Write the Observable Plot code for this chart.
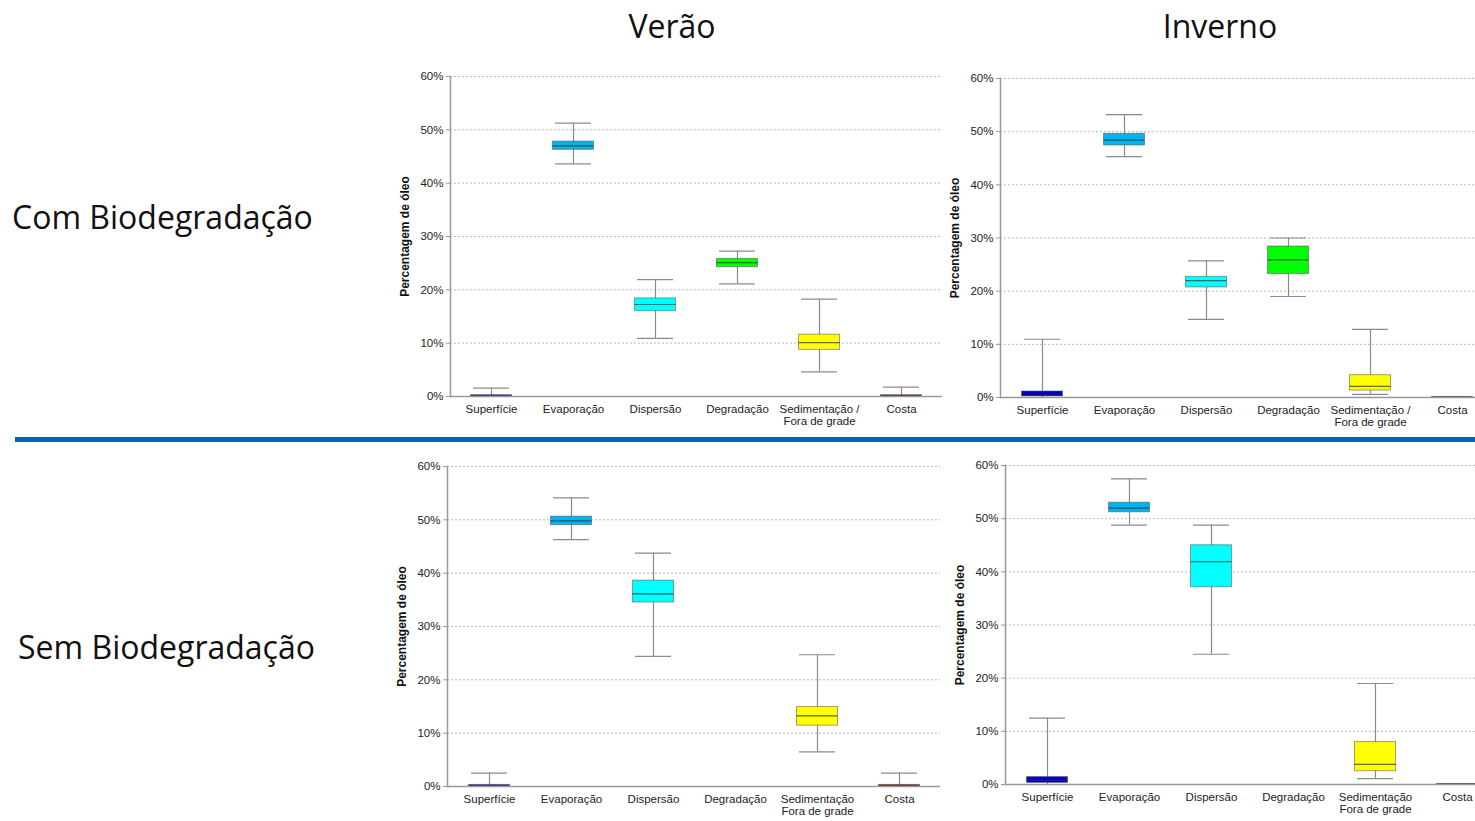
<!DOCTYPE html>
<html>
<head>
<meta charset="utf-8">
<script src="https://cdn.jsdelivr.net/npm/d3@7"></script>
<script src="https://cdn.jsdelivr.net/npm/@observablehq/plot@0.6"></script>
<style>
  html, body { margin: 0; padding: 0; background: #fff; }
  body { width: 1475px; height: 821px; overflow: hidden; position: relative; }
  .abs { position: absolute; }
  .title { font-family: "Open Sans", sans-serif; font-size: 32px; color: #111; white-space: nowrap; line-height: 1; }
  .rowlab { font-family: "Open Sans", sans-serif; font-size: 32px; color: #111; white-space: nowrap; line-height: 1; }
  .divider { position: absolute; left: 15px; top: 437px; width: 1460px; height: 5px; background: #0B63AE; }
  .panel { width: 700px; }
  .panel svg { overflow: visible; max-width: none !important; }
</style>
</head>
<body>
<div id="root"></div>
<script>
// ---------- data ----------
const categories = ["Superfície", "Evaporação", "Dispersão", "Degradação", "Sedimentação", "Costa"];
const catLabelsTop = ["Superfície", "Evaporação", "Dispersão", "Degradação", "Sedimentação /\nFora de grade", "Costa"];
const catLabelsBottom = ["Superfície", "Evaporação", "Dispersão", "Degradação", "Sedimentação\nFora de grade", "Costa"];
const catColors = ["#0000CD", "#00B4F0", "#00FFFF", "#00FF00", "#FFFF00", "#7A1A00"];
const seasons = ["Verão", "Inverno"];
const rowsLabels = ["Com Biodegradação", "Sem Biodegradação"];
const yTicks = [0, 10, 20, 30, 40, 50, 60];
const yLabel = "Percentagem de óleo";

// Verão - Com biodegradação (% of oil)
const veraoComLow  = [0,    43.6,  10.9, 21.1,  4.6,  0];
const veraoComQ1   = [0,    46.25, 16.0, 24.25, 8.75, 0];
const veraoComMed  = [0.1,  47.0,  17.25, 25.1, 10.1, 0.1];
const veraoComQ3   = [0.25, 47.8,  18.4, 25.8,  11.6, 0.25];
const veraoComHigh = [1.56, 51.25, 21.9, 27.25, 18.25, 1.75];

// Inverno - Com biodegradação
const invernoComLow  = [0,     45.3, 14.7, 19.0, 0.6,  0];
const invernoComQ1   = [0.2,   47.4, 20.7, 23.2, 1.3,  0];
const invernoComMed  = [0.4,   48.4, 22.0, 25.9, 2.1,  0.05];
const invernoComQ3   = [1.13,  49.6, 22.7, 28.4, 4.2,  0.1];
const invernoComHigh = [10.96, 53.2, 25.7, 30.0, 12.8, 0.1];

// Verão - Sem biodegradação
const veraoSemLow  = [0,   46.3, 24.4,  null, 6.5,   0];
const veraoSemQ1   = [0,   49.0, 34.5,  null, 11.4,  0];
const veraoSemMed  = [0.1, 49.8, 36.1,  null, 13.25, 0.1];
const veraoSemQ3   = [0.3, 50.6, 38.6,  null, 14.9,  0.3];
const veraoSemHigh = [2.5, 54.1, 43.75, null, 24.7,  2.5];

// Inverno - Sem biodegradação
const invernoSemLow  = [0,    48.8, 24.5, null, 1.1,  0];
const invernoSemQ1   = [0.3,  51.2, 37.1, null, 2.5,  0];
const invernoSemMed  = [0.8,  52.0, 41.9, null, 3.8,  0.05];
const invernoSemQ3   = [1.4,  53.0, 45.0, null, 8.0,  0.1];
const invernoSemHigh = [12.5, 57.5, 48.8, null, 19.0, 0.1];

// ---------- layout ----------
const panels = [
  {stats: [veraoComLow, veraoComQ1, veraoComMed, veraoComQ3, veraoComHigh], labels: catLabelsTop, left: 380, top: 60, mt: 16, fh: 320, fw: 492},
  {stats: [invernoComLow, invernoComQ1, invernoComMed, invernoComQ3, invernoComHigh], labels: catLabelsTop, left: 930, top: 60, mt: 18, fh: 319, fw: 493},
  {stats: [veraoSemLow, veraoSemQ1, veraoSemMed, veraoSemQ3, veraoSemHigh], labels: catLabelsBottom, left: 377, top: 450, mt: 16, fh: 320, fw: 493},
  {stats: [invernoSemLow, invernoSemQ1, invernoSemMed, invernoSemQ3, invernoSemHigh], labels: catLabelsBottom, left: 935, top: 450, mt: 15, fh: 319, fw: 493}
];

const root = document.getElementById("root");

function addText(cls, text, style) {
  const d = document.createElement("div");
  d.className = "abs " + cls;
  d.textContent = text;
  Object.assign(d.style, style);
  root.appendChild(d);
  return d;
}

addText("title", seasons[0], {left: "672px", top: "10px", transform: "translateX(-50%)"});
addText("title", seasons[1], {left: "1220px", top: "10px", transform: "translateX(-50%)"});
addText("rowlab", rowsLabels[0], {left: "12px", top: "201px"});
addText("rowlab", rowsLabels[1], {left: "18px", top: "631px"});
const div = document.createElement("div");
div.className = "divider";
root.appendChild(div);

const ML = 70;
panels.forEach(p => {
  const [low, q1, med, q3, high] = p.stats;
  const data = categories.map((c, i) => ({cat: c, low: low[i], q1: q1[i], med: med[i], q3: q3[i], high: high[i]}))
    .filter(d => d.q1 != null);
  const labelOf = new Map(categories.map((c, i) => [c, p.labels[i]]));
  const chart = Plot.plot({
    width: ML + p.fw + 10,
    height: p.mt + p.fh + 45,
    marginLeft: ML,
    marginRight: 10,
    marginTop: p.mt,
    marginBottom: 45,
    style: {fontFamily: "'Liberation Sans', Arial, sans-serif", fontSize: "11.5px", color: "#222", background: "transparent", overflow: "visible"},
    x: {domain: categories, padding: 0, axis: null},
    y: {domain: [0, 60], axis: null},
    color: {domain: categories, range: catColors},
    marks: [
      Plot.gridY(yTicks.slice(1), {stroke: "#b8b8b8", strokeOpacity: 1, strokeDasharray: "2,2"}),
      Plot.axisY(yTicks, {tickFormat: d => d + "%", tickSize: 4, tickPadding: 3, stroke: "#999", fontSize: 11.5, label: null}),
      Plot.axisX({tickFormat: d => labelOf.get(d), tickSize: 0, tickPadding: 8, fontSize: 11.5, lineHeight: 1.05, label: null}),
      Plot.text([yLabel], {frameAnchor: "left", dx: -45, rotate: -90, textAnchor: "middle", fontWeight: "bold", fontSize: 12, fill: "#111", text: d => d}),
      Plot.ruleX(data, {x: "cat", y1: "low", y2: "high", stroke: "#8a8a8a", strokeWidth: 1.2}),
      Plot.tickY(data, {x: "cat", y: "high", stroke: "#8a8a8a", strokeWidth: 1.2, insetLeft: 23, insetRight: 23}),
      Plot.tickY(data, {x: "cat", y: "low", stroke: "#8a8a8a", strokeWidth: 1.2, insetLeft: 23, insetRight: 23}),
      Plot.barY(data, {x: "cat", y1: "q1", y2: "q3", fill: "cat", stroke: "#555", strokeOpacity: 0.55, strokeWidth: 1, insetLeft: 20.5, insetRight: 20.5}),
      Plot.tickY(data, {x: "cat", y: "med", stroke: "#333", strokeOpacity: 0.75, strokeWidth: 1.2, insetLeft: 20.5, insetRight: 20.5}),
      Plot.ruleY([0], {stroke: "#999", strokeWidth: 1.5}),
      Plot.frame({anchor: "left", stroke: "#999", strokeWidth: 1.5})
    ]
  });
  const wrap = document.createElement("div");
  wrap.className = "abs panel";
  wrap.style.left = (p.left) + "px";
  wrap.style.top = p.top + "px";
  wrap.appendChild(chart);
  root.appendChild(wrap);
});
</script>
</body>
</html>
